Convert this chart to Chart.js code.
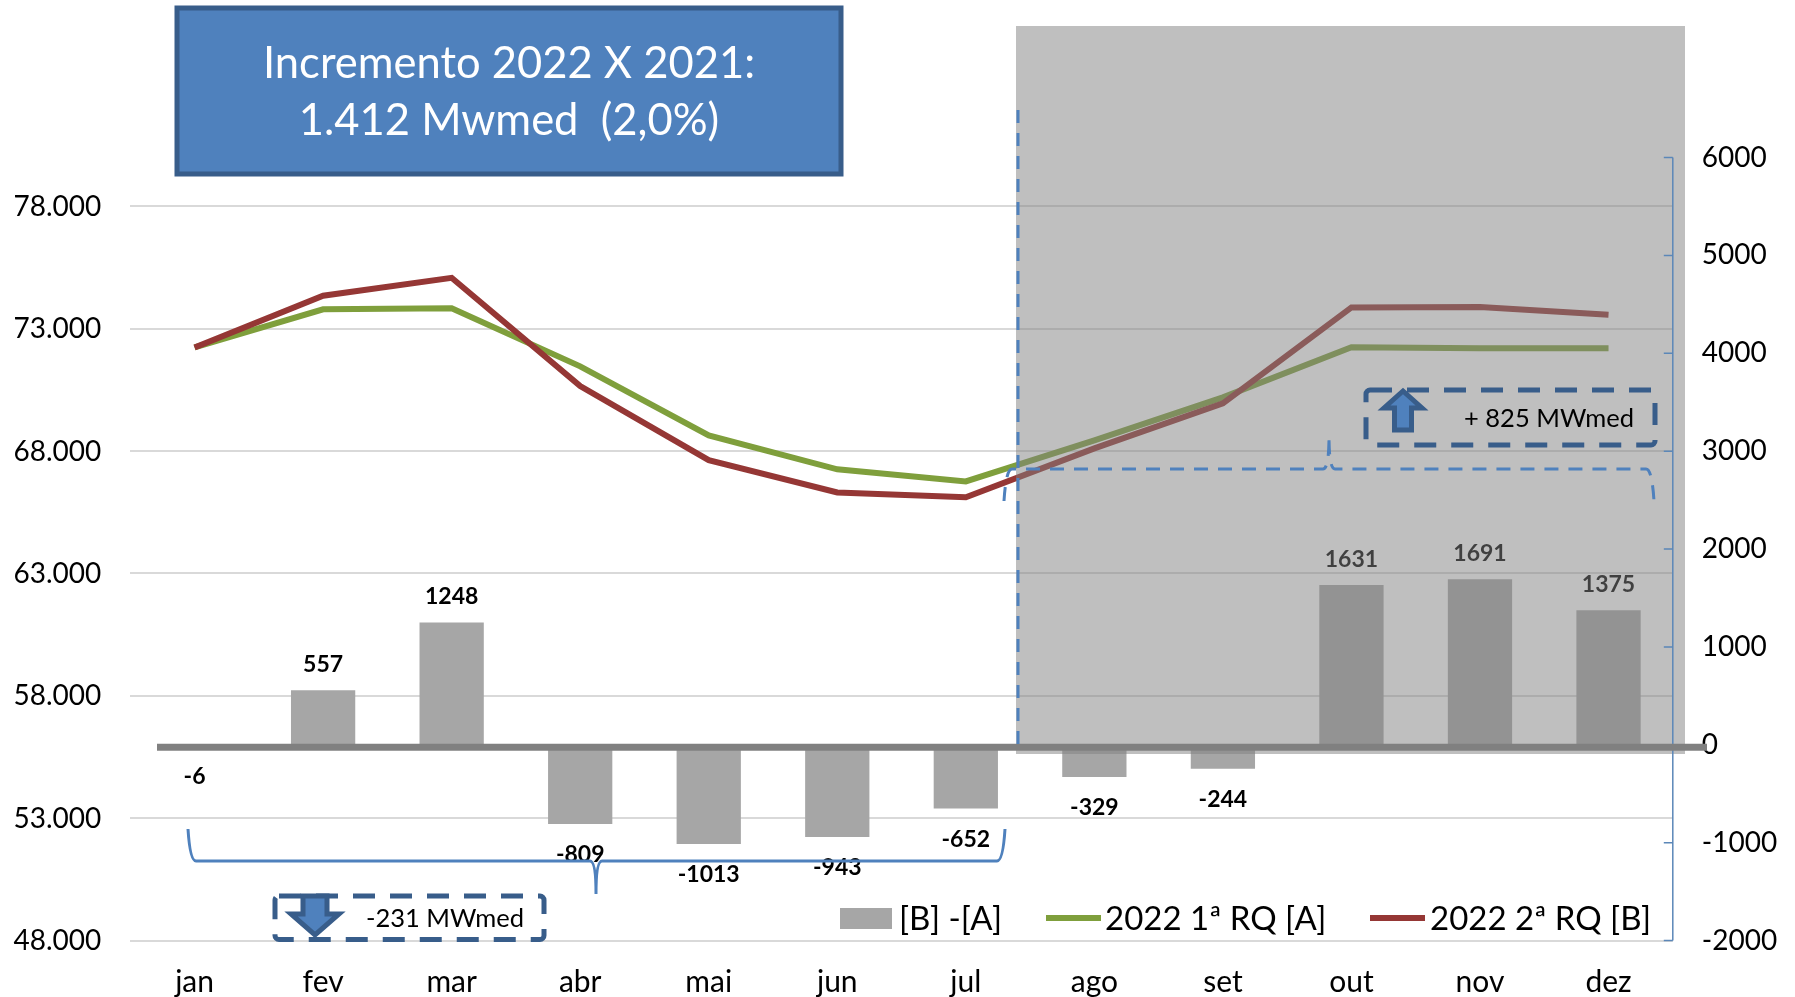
<!DOCTYPE html>
<html>
<head>
<meta charset="utf-8">
<script src="https://cdn.jsdelivr.net/npm/chart.js@4"></script>
<style>
  html, body { margin: 0; padding: 0; background: #fff; }
  canvas { display: block; }
</style>
</head>
<body>
<canvas id="rqChart" width="1795" height="997"></canvas>
<script>
const meses = ["jan", "fev", "mar", "abr", "mai", "jun", "jul", "ago", "set", "out", "nov", "dez"];
const rq1 = [72243, 73795, 73836, 71465, 68644, 67255, 66764, 68440, 70198, 72243, 72200, 72200];
const rq2 = [72237, 74352, 75084, 70656, 67631, 66312, 66112, 68111, 69954, 73874, 73891, 73575];
const diferenca = [-6, 557, 1248, -809, -1013, -943, -652, -329, -244, 1631, 1691, 1375];
const ticksEsquerda = [48000, 53000, 58000, 63000, 68000, 73000, 78000];

const azul = "#4f81bd";
const azulEscuro = "#385d8a";
const fonte = "Lato";

function texto(ctx, str, x, y, font, color, align) {
  ctx.font = font;
  ctx.fillStyle = color;
  ctx.textAlign = align || "center";
  ctx.textBaseline = "middle";
  ctx.fillText(str, x, y);
}

// chaves azuis
function chave(ctx, pts, dash) {
  ctx.save();
  ctx.strokeStyle = azul;
  ctx.lineWidth = 3;
  ctx.setLineDash(dash);
  ctx.beginPath();
  ctx.moveTo(pts.x0, pts.yFim);
  ctx.quadraticCurveTo(pts.x0 + 2, pts.y, pts.x0 + 8, pts.y);
  ctx.lineTo(pts.xm - 6, pts.y);
  ctx.quadraticCurveTo(pts.xm, pts.y, pts.xm, pts.yPico);
  ctx.quadraticCurveTo(pts.xm, pts.y, pts.xm + 6, pts.y);
  ctx.lineTo(pts.x1 - 8, pts.y);
  ctx.quadraticCurveTo(pts.x1 - 2, pts.y, pts.x1, pts.yFim);
  ctx.stroke();
  ctx.restore();
}

function caixaTracejada(ctx, x, y, w, h) {
  ctx.save();
  ctx.strokeStyle = azulEscuro;
  ctx.lineWidth = 5;
  ctx.setLineDash([22, 15]);
  ctx.beginPath();
  ctx.roundRect(x, y, w, h, 4);
  ctx.stroke();
  ctx.restore();
}

// seta de bloco
function seta(ctx, cx, yBase, yPonta, yCabeca, meiaCabeca, meioCorpo) {
  ctx.save();
  ctx.fillStyle = azul;
  ctx.strokeStyle = azulEscuro;
  ctx.lineWidth = 5;
  ctx.lineJoin = "miter";
  ctx.beginPath();
  ctx.moveTo(cx - meioCorpo, yBase);
  ctx.lineTo(cx + meioCorpo, yBase);
  ctx.lineTo(cx + meioCorpo, yCabeca);
  ctx.lineTo(cx + meiaCabeca, yCabeca);
  ctx.lineTo(cx, yPonta);
  ctx.lineTo(cx - meiaCabeca, yCabeca);
  ctx.lineTo(cx - meioCorpo, yCabeca);
  ctx.closePath();
  ctx.fill();
  ctx.stroke();
  ctx.restore();
}

const extras = {
  id: "extras",
  afterDatasetsDraw(chart) {
    const ctx = chart.ctx;
    const y2 = chart.scales.y2;
    const barras = chart.getDatasetMeta(0).data;

    // rotulos das barras
    barras.forEach((bar, i) => {
      const v = diferenca[i];
      const yLabel = v < 0 ? bar.y + 31 : bar.y - 26;
      texto(ctx, String(v), bar.x, yLabel, "bold 23px " + fonte, "#000");
    });

    // area cinza
    ctx.fillStyle = "rgba(127,127,127,0.5)";
    ctx.fillRect(1016, 26, 669, 728);

    // eixo direito
    ctx.strokeStyle = "#5b87b8";
    ctx.lineWidth = 1.5;
    ctx.beginPath();
    ctx.moveTo(y2.left, y2.top);
    ctx.lineTo(y2.left, y2.bottom);
    y2.ticks.forEach((t) => {
      const p = y2.getPixelForValue(t.value);
      ctx.moveTo(y2.left - 9, p);
      ctx.lineTo(y2.left, p);
    });
    ctx.stroke();

    // linha do zero
    const zero = y2.getPixelForValue(0) + 2.5;
    ctx.strokeStyle = "#808080";
    ctx.lineWidth = 7;
    ctx.beginPath();
    ctx.moveTo(157, zero);
    ctx.lineTo(1707, zero);
    ctx.stroke();

    // divisao tracejada
    ctx.save();
    ctx.strokeStyle = azul;
    ctx.lineWidth = 3;
    ctx.setLineDash([13, 10]);
    ctx.beginPath();
    ctx.moveTo(1018, 110);
    ctx.lineTo(1018, 745);
    ctx.stroke();
    ctx.restore();

    chave(ctx, { x0: 188, x1: 1005, xm: 596, y: 861, yFim: 829, yPico: 894 }, []);
    chave(ctx, { x0: 1004, x1: 1654, xm: 1329, y: 469, yFim: 501, yPico: 436 }, [14, 10]);

    // titulo
    ctx.fillStyle = azul;
    ctx.strokeStyle = azulEscuro;
    ctx.lineWidth = 5;
    ctx.beginPath();
    ctx.rect(177, 8, 664, 166);
    ctx.fill();
    ctx.stroke();
    texto(ctx, "Incremento 2022 X 2021:", 509, 64, "43.5px " + fonte, "#fff");
    texto(ctx, "1.412 Mwmed  (2,0%)", 509, 121, "43.5px " + fonte, "#fff");

    // caixas de valor
    caixaTracejada(ctx, 275, 896, 269, 43.5);
    seta(ctx, 315, 896, 935, 914, 24, 12);
    texto(ctx, "-231 MWmed", 366, 919, "25.5px " + fonte, "#000", "left");

    caixaTracejada(ctx, 1366, 390, 289, 55);
    seta(ctx, 1403, 430, 391, 408, 19, 8.5);
    texto(ctx, "+ 825 MWmed", 1464, 419, "25.5px " + fonte, "#000", "left");

    // legenda
    const yLeg = 919;
    ctx.fillStyle = "#a6a6a6";
    ctx.fillRect(840, 908, 52, 21);
    texto(ctx, "[B] -[A]", 899, yLeg, "33px " + fonte, "#000", "left");
    ctx.lineWidth = 6;
    ctx.strokeStyle = "#7f9f3c";
    ctx.beginPath();
    ctx.moveTo(1046, yLeg - 1);
    ctx.lineTo(1101, yLeg - 1);
    ctx.stroke();
    texto(ctx, "2022 1ª RQ [A]", 1105, yLeg, "33px " + fonte, "#000", "left");
    ctx.strokeStyle = "#953735";
    ctx.beginPath();
    ctx.moveTo(1370, yLeg - 1);
    ctx.lineTo(1425, yLeg - 1);
    ctx.stroke();
    texto(ctx, "2022 2ª RQ [B]", 1430, yLeg, "33px " + fonte, "#000", "left");
  },
};

new Chart(document.getElementById("rqChart"), {
  type: "bar",
  data: {
    labels: meses,
    datasets: [
      {
        type: "bar",
        label: "[B] -[A]",
        data: diferenca,
        yAxisID: "y2",
        backgroundColor: "#a6a6a6",
        barPercentage: 0.5,
        categoryPercentage: 1,
        order: 2,
      },
      {
        type: "line",
        label: "2022 1ª RQ [A]",
        data: rq1,
        yAxisID: "y",
        borderColor: "#7f9f3c",
        borderWidth: 6,
        pointRadius: 0,
        tension: 0,
        order: 1,
      },
      {
        type: "line",
        label: "2022 2ª RQ [B]",
        data: rq2,
        yAxisID: "y",
        borderColor: "#953735",
        borderWidth: 6,
        pointRadius: 0,
        tension: 0,
        order: 0,
      },
    ],
  },
  options: {
    responsive: false,
    animation: false,
    layout: { padding: { top: 157.5, left: 0, right: 0, bottom: 0 } },
    plugins: { legend: { display: false }, tooltip: { enabled: false } },
    scales: {
      x: {
        grid: { display: false },
        border: { display: false },
        ticks: { font: { family: fonte, size: 30 }, color: "#000", padding: 16, maxRotation: 0 },
        afterFit(s) { s.height = 56.5; },
      },
      y: {
        position: "left",
        min: 48000,
        max: 80000,
        afterBuildTicks(s) { s.ticks = ticksEsquerda.map((v) => ({ value: v })); },
        grid: { color: "#d9d9d9", lineWidth: 2, drawTicks: false },
        border: { display: false },
        ticks: {
          font: { family: fonte, size: 28 },
          color: "#000",
          padding: 29,
          labelOffset: 0.5,
          callback: (v) => v.toLocaleString("pt-BR"),
        },
        afterFit(s) { s.width = 130.3; },
      },
      y2: {
        position: "right",
        min: -2000,
        max: 6000,
        grid: { display: false, drawTicks: false },
        border: { display: false },
        ticks: {
          stepSize: 1000,
          font: { family: fonte, size: 28 },
          color: "#000",
          padding: 29,
          callback: (v) => String(v),
        },
        afterFit(s) { s.width = 122.2; },
      },
    },
  },
  plugins: [extras],
});
</script>
</body>
</html>
